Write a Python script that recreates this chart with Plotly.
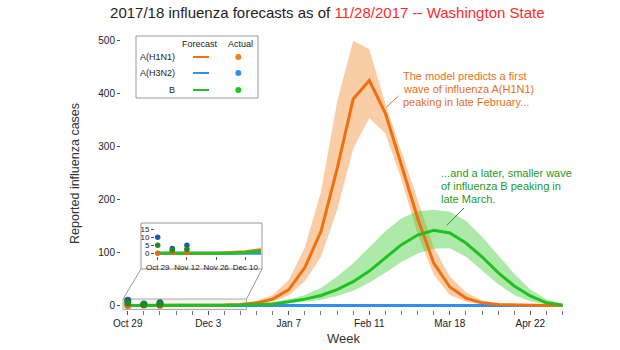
import plotly.graph_objects as go
from datetime import datetime, timedelta

# ---------------- data ----------------
weeks = ["2017-10-29", "2017-11-05", "2017-11-12", "2017-11-19", "2017-11-26", "2017-12-03",
         "2017-12-10", "2017-12-17", "2017-12-24", "2017-12-31", "2018-01-07", "2018-01-14",
         "2018-01-21", "2018-01-28", "2018-02-04", "2018-02-11", "2018-02-18", "2018-02-25",
         "2018-03-04", "2018-03-11", "2018-03-18", "2018-03-25", "2018-04-01", "2018-04-08",
         "2018-04-15", "2018-04-22", "2018-04-29", "2018-05-06"]

h1n1_median = [0, 0, 0, 0, 0, 0.5, 1, 2, 5, 12, 30, 72, 140, 258, 390, 425, 363, 265,
               165, 80, 35, 14, 5, 2, 1, 0, 0, 0]
h1n1_lower = [0, 0, 0, 0, 0, 0.3, 0.6, 1.2, 3, 7, 19, 46, 92, 180, 296, 354, 325, 238,
              135, 58, 20, 7, 2, 0.5, 0, 0, 0, 0]
h1n1_upper = [0, 0, 0, 0, 0.5, 0.8, 1.5, 3.5, 9, 20, 48, 110, 215, 385, 500, 484, 380, 292,
              200, 110, 55, 25, 10, 4, 1, 0, 0, 0]

h3n2_median = [0] * 28

b_median = [0, 0, 0, 0, 0, 0, 0.5, 1, 2, 3, 7, 12, 19, 30, 45, 65, 90, 115, 133, 142, 137,
            118, 92, 62, 37, 18, 5, 1]
b_lower = [0, 0, 0, 0, 0, 0, 0.2, 0.5, 1, 1.5, 4, 7, 11, 18, 28, 43, 62, 82, 98, 107, 108,
           92, 66, 40, 20, 8, 2, 0]
b_upper = [0, 0, 0, 0, 0, 0.5, 1, 2, 4, 6, 12, 20, 33, 55, 80, 110, 140, 165, 178, 181, 177,
           160, 130, 95, 60, 30, 12, 3]

actual_weeks = ["2017-10-29", "2017-11-05", "2017-11-12"]
h1n1_actual = [0, 1, 0.5]
h3n2_actual = [10, 3, 5]
b_actual = [5, 2, 2.5]

legend_rows = ["A(H1N1)", "A(H3N2)", "B"]
y_ticks = [0, 100, 200, 300, 400, 500]
inset_y_ticks = [0, 5, 10, 15]

orange_note = ["The model predicts a first", "wave of influenza A(H1N1)", "peaking in late February..."]
green_note = ["...and a later, smaller wave", "of influenza B peaking in", "late March."]

# ---------------- styles ----------------
FONT = "Liberation Sans, Arial, Helvetica, sans-serif"
C_OR, C_BL, C_GR = "#f0700f", "#2f8ff0", "#20c020"
C_OR_PT, C_BL_PT, C_GR_PT = "#e36c17", "#1f5aa8", "#1d8c1d"
C_OR_LG, C_BL_LG, C_GR_LG = "#f08020", "#3090f0", "#20c820"
BAND_OR = "rgba(243,150,70,0.48)"
BAND_GR = "rgba(60,205,50,0.42)"

W_, H_ = 620, 350
L, R, T, B = 121, 52, 36, 40
PW, PH = W_ - L - R, H_ - T - B


def px(x):
    return (x - L) / PW


def py(y):
    return (H_ - B - y) / PH


d0 = datetime(2017, 10, 29)


def wk(w):
    return (d0 + timedelta(days=7 * w)).strftime("%Y-%m-%d %H:%M:%S")


fig = go.Figure()


def add_band(lo, hi, color, xa="x", ya="y"):
    fig.add_trace(go.Scatter(x=weeks, y=lo, mode="lines", line=dict(width=0),
                             hoverinfo="skip", xaxis=xa, yaxis=ya))
    fig.add_trace(go.Scatter(x=weeks, y=hi, mode="lines", line=dict(width=0),
                             fill="tonexty", fillcolor=color, hoverinfo="skip",
                             xaxis=xa, yaxis=ya))


def add_lines(xa, ya, width):
    fig.add_trace(go.Scatter(x=weeks, y=h3n2_median, mode="lines",
                             line=dict(color=C_BL, width=width), xaxis=xa, yaxis=ya))
    fig.add_trace(go.Scatter(x=weeks, y=h1n1_median, mode="lines",
                             line=dict(color=C_OR, width=width), xaxis=xa, yaxis=ya))
    fig.add_trace(go.Scatter(x=weeks, y=b_median, mode="lines",
                             line=dict(color=C_GR, width=width), xaxis=xa, yaxis=ya))


def add_points(xa, ya, size):
    for vals, c in [(h1n1_actual, C_OR_PT), (h3n2_actual, C_BL_PT), (b_actual, C_GR_PT)]:
        fig.add_trace(go.Scatter(x=actual_weeks, y=vals, mode="markers",
                                 marker=dict(color=c, size=size), cliponaxis=False,
                                 xaxis=xa, yaxis=ya))


# main
add_band(h1n1_lower, h1n1_upper, BAND_OR)
add_band(b_lower, b_upper, BAND_GR)
add_lines("x", "y", 3)
add_points("x", "y", 7)

# inset
add_band(h1n1_lower, h1n1_upper, BAND_OR, "x2", "y2")
add_band(b_lower, b_upper, BAND_GR, "x2", "y2")
add_lines("x2", "y2", 3)
add_points("x2", "y2", 5.5)

shapes = []
# zoom rectangle on main axis
shapes.append(dict(type="rect", xref="paper", yref="paper", x0=px(123), x1=px(246.5),
                   y0=py(309.5), y1=py(299), line=dict(color="#aaaaaa", width=1),
                   fillcolor="rgba(235,235,235,0.6)", layer="below"))
# inset box
shapes.append(dict(type="rect", xref="paper", yref="paper", x0=px(141), x1=px(262),
                   y0=py(269), y1=py(223), line=dict(color="#999999", width=1),
                   fillcolor="white", layer="below"))
# connectors
shapes.append(dict(type="line", xref="paper", yref="paper", x0=px(141), y0=py(269),
                   x1=px(123), y1=py(299), line=dict(color="#999999", width=1)))
shapes.append(dict(type="line", xref="paper", yref="paper", x0=px(262), y0=py(269),
                   x1=px(246.5), y1=py(299), line=dict(color="#999999", width=1)))
# legend box
shapes.append(dict(type="rect", xref="paper", yref="paper", x0=px(136), x1=px(258),
                   y0=py(98), y1=py(36), line=dict(color="#999999", width=1),
                   fillcolor="white"))
row_y = [57, 73, 90]
for yy, lc, dc in zip(row_y, [C_OR, C_BL, C_GR], [C_OR_LG, C_BL_LG, C_GR_LG]):
    shapes.append(dict(type="line", xref="paper", yref="paper", x0=px(193), x1=px(209),
                       y0=py(yy), y1=py(yy), line=dict(color=lc, width=2)))
    shapes.append(dict(type="circle", xref="paper", yref="paper", x0=px(235.3), x1=px(241.3),
                       y0=py(yy + 3), y1=py(yy - 3), line=dict(color=dc, width=0),
                       fillcolor=dc))
# annotation pointer lines
shapes.append(dict(type="line", xref="paper", yref="paper", x0=px(386), y0=py(107.5),
                   x1=px(398.5), y1=py(96), line=dict(color="#e8701a", width=1)))
shapes.append(dict(type="line", xref="paper", yref="paper", x0=px(446.7), y0=py(225.5),
                   x1=px(464), y1=py(208), line=dict(color="#1f9a1f", width=1)))

annotations = []
annotations.append(dict(xref="paper", yref="paper", x=px(200), y=py(43.5), text="Forecast",
                        showarrow=False, xanchor="center", yanchor="middle",
                        font=dict(size=9, color="#222")))
annotations.append(dict(xref="paper", yref="paper", x=px(240), y=py(43.5), text="Actual",
                        showarrow=False, xanchor="center", yanchor="middle",
                        font=dict(size=9, color="#222")))
for yy, t in zip(row_y, legend_rows):
    annotations.append(dict(xref="paper", yref="paper", x=px(177), y=py(yy), text=t,
                            showarrow=False, xanchor="right", yanchor="middle",
                            font=dict(size=9, color="#222")))
for i, t in enumerate(orange_note):
    annotations.append(dict(xref="paper", yref="paper", x=px(401), y=py(76 + 13 * i), text=t,
                            showarrow=False, xanchor="left", yanchor="middle",
                            font=dict(size=11, color="#e8701a")))
for i, t in enumerate(green_note):
    annotations.append(dict(xref="paper", yref="paper", x=px(439), y=py(172.7 + 13 * i), text=t,
                            showarrow=False, xanchor="left", yanchor="middle",
                            font=dict(size=11, color="#1f9a1f")))
# axis titles
annotations.append(dict(xref="paper", yref="paper", x=px(343.5), y=py(338.5), text="Week",
                        showarrow=False, xanchor="center", yanchor="middle",
                        font=dict(size=13, color="#333")))
annotations.append(dict(xref="paper", yref="paper", x=px(75), y=py(174), text="Reported influenza cases",
                        showarrow=False, xanchor="center", yanchor="middle", textangle=-90,
                        font=dict(size=12.5, color="#333")))

fig.update_layout(
    width=W_, height=H_,
    margin=dict(l=L, r=R, t=T, b=B, pad=0, autoexpand=False),
    paper_bgcolor="white", plot_bgcolor="rgba(0,0,0,0)",
    showlegend=False,
    font=dict(family=FONT, color="#333"),
    title=dict(text="2017/18 influenza forecasts as of "
                    "<span style='color:#ff2a2a'>11/28/2017 -- Washington State</span>",
               x=327.3 / W_, xanchor="center", xref="container",
               y=1 - 13 / H_, yanchor="middle", yref="container",
               font=dict(size=15, color="#222", family=FONT)),
    xaxis=dict(type="date", range=[wk(-0.42), wk(27.34)], tick0="2017-10-29",
               dtick=35 * 86400000, tickformat="%b %-d", ticks="outside", ticklen=4,
               tickcolor="#555", showgrid=False, zeroline=False, showline=False,
               automargin=False,
               tickfont=dict(size=10, color="#222"),
               minor=dict(dtick=7 * 86400000, tick0="2017-10-29", ticks="outside",
                          ticklen=4, tickcolor="#777", showgrid=False)),
    yaxis=dict(range=[-8.5, 509], tickvals=y_ticks, ticks="outside", ticklen=3,
               tickcolor="#555", showgrid=False, zeroline=False, showline=False,
               automargin=False,
               tickfont=dict(size=10, color="#222")),
    xaxis2=dict(type="date", anchor="y2", domain=[px(155), px(261)],
                range=[wk(-0.185), wk(7.075)], tick0="2017-10-29", dtick=14 * 86400000,
                tickformat="%b %-d", ticks="outside", ticklen=3, tickcolor="#555",
                showgrid=False, zeroline=False, showline=False, automargin=False,
                tickfont=dict(size=8, color="#222")),
    yaxis2=dict(anchor="x2", domain=[py(256), py(225)], range=[-1.7, 17.7],
                tickvals=inset_y_ticks, ticks="outside", ticklen=3, tickcolor="#555",
                showgrid=False, zeroline=False, showline=False, automargin=False,
                tickfont=dict(size=8, color="#222")),
    shapes=shapes,
    annotations=annotations,
)

fig.write_html("out.html")
